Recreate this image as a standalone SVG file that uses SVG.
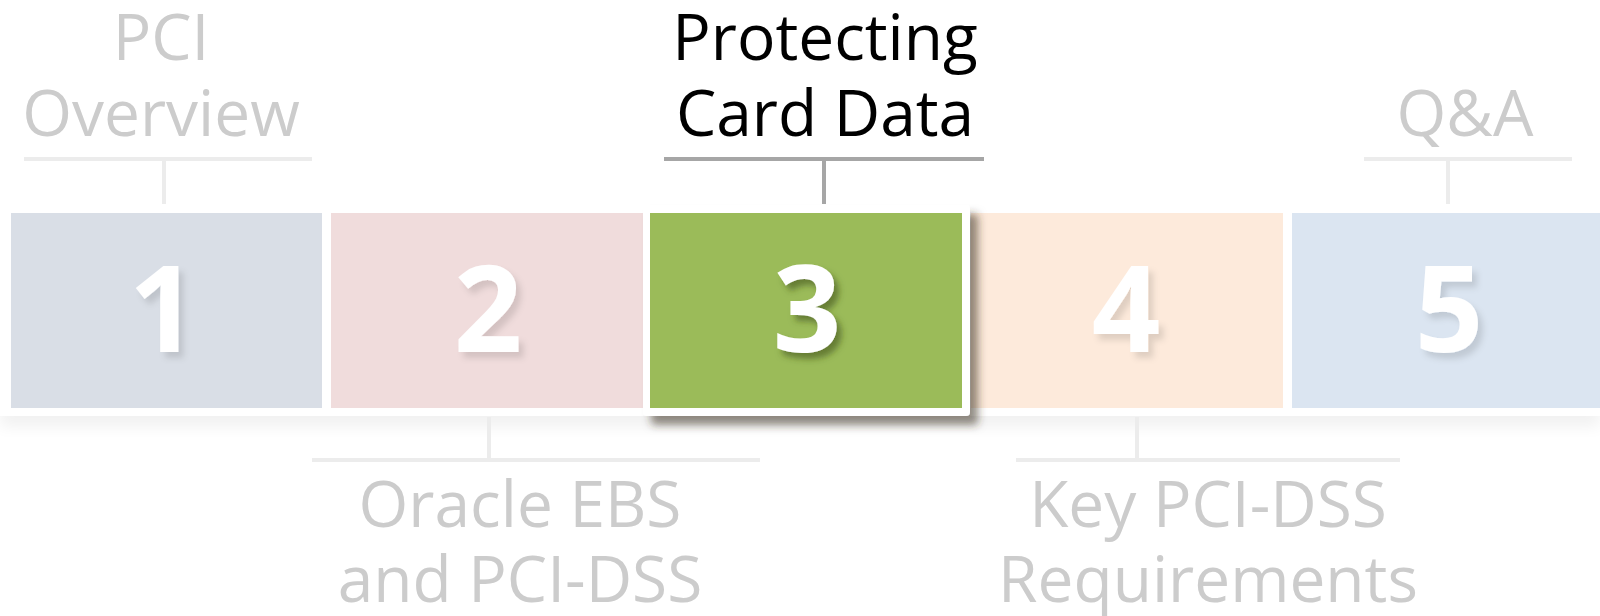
<svg xmlns="http://www.w3.org/2000/svg" width="1600" height="616" viewBox="0 0 1600 616">
  <defs>
    <style>
      .label { font-family: "Open Sans", "Noto Sans", sans-serif; font-size: 64px; text-anchor: middle; fill: #cccccc; }
      .label.active { fill: #000000; }
      .num { font-family: "Open Sans", "Noto Sans", sans-serif; font-weight: 700; font-size: 120px; text-anchor: middle; fill: #ffffff; }
      .frame { fill: #ffffff; }
      .link { stroke: #ececec; stroke-width: 4; fill: none; }
      .link.active { stroke: #a6a6a6; }
    </style>
    <filter id="numShadow" x="-30%" y="-30%" width="170%" height="170%">
      <feGaussianBlur in="SourceAlpha" stdDeviation="3"/>
      <feOffset dx="5" dy="6" result="b"/>
      <feFlood flood-color="#000000" flood-opacity="0.12"/>
      <feComposite in2="b" operator="in" result="s"/>
      <feMerge><feMergeNode in="s"/><feMergeNode in="SourceGraphic"/></feMerge>
    </filter>
    <filter id="numShadowDark" x="-30%" y="-30%" width="170%" height="170%">
      <feGaussianBlur in="SourceAlpha" stdDeviation="3"/>
      <feOffset dx="5" dy="6" result="b"/>
      <feFlood flood-color="#3a4a1a" flood-opacity="0.55"/>
      <feComposite in2="b" operator="in" result="s"/>
      <feMerge><feMergeNode in="s"/><feMergeNode in="SourceGraphic"/></feMerge>
    </filter>
    <filter id="raised" x="-10%" y="-10%" width="125%" height="130%">
      <feGaussianBlur in="SourceAlpha" stdDeviation="4"/>
      <feOffset dx="8" dy="9" result="b"/>
      <feFlood flood-color="#3a3020" flood-opacity="0.55"/>
      <feComposite in2="b" operator="in" result="s"/>
      <feMerge><feMergeNode in="s"/><feMergeNode in="SourceGraphic"/></feMerge>
    </filter>
    <filter id="rowShadow" x="-5%" y="-50%" width="110%" height="200%">
      <feGaussianBlur stdDeviation="8"/>
    </filter>
  </defs>

  <rect width="1600" height="616" fill="#ffffff"/>

  <!-- soft shadow under the row of steps -->
  <rect x="0" y="404" width="1600" height="22" fill="#000000" opacity="0.06" filter="url(#rowShadow)"/>
  <rect x="0" y="205" width="1600" height="211" class="frame"/>

  <!-- connectors between steps and their captions -->
  <g id="connectors">
    <path class="link" d="M24 159 H312 M164 159 V204"/>
    <path class="link" d="M312 460 H760 M489 460 V417"/>
    <path class="link active" d="M664 159 H984 M824 159 V204"/>
    <path class="link" d="M1016 460 H1400 M1137 460 V417"/>
    <path class="link" d="M1364 159 H1572 M1448 159 V204"/>
  </g>

  <g id="node-1">
    <rect x="11" y="213" width="311" height="195" fill="#d9dee6"/>
    <text class="num" x="163" y="352" filter="url(#numShadow)">1</text>
    <text class="label" x="161" y="60">PCI</text>
    <text class="label" x="161" y="136">Overview</text>
  </g>

  <g id="node-2">
    <rect x="331" y="213" width="312" height="195" fill="#f0dcdc"/>
    <text class="num" x="488" y="352" filter="url(#numShadow)">2</text>
    <text class="label" x="520" y="527">Oracle EBS</text>
    <text class="label" x="520" y="602">and PCI-DSS</text>
  </g>

  <g id="node-4">
    <rect x="971" y="213" width="312" height="195" fill="#fdeadb"/>
    <text class="num" x="1126" y="352" filter="url(#numShadow)">4</text>
    <text class="label" x="1208" y="527">Key PCI-DSS</text>
    <text class="label" x="1208" y="602">Requirements</text>
  </g>

  <g id="node-5">
    <rect x="1292" y="213" width="320" height="195" fill="#dbe5f1"/>
    <text class="num" x="1449" y="352" filter="url(#numShadow)">5</text>
    <text class="label" x="1465" y="136">Q&amp;A</text>
  </g>

  <!-- current step, raised above the row -->
  <g id="node-3">
    <rect x="643" y="205" width="327" height="211" rx="4" class="frame" filter="url(#raised)"/>
    <rect x="650" y="213" width="312" height="195" fill="#9bbb59"/>
    <text class="num" x="807" y="352" filter="url(#numShadowDark)">3</text>
    <text class="label active" x="825" y="60">Protecting</text>
    <text class="label active" x="825" y="136">Card Data</text>
  </g>
</svg>
